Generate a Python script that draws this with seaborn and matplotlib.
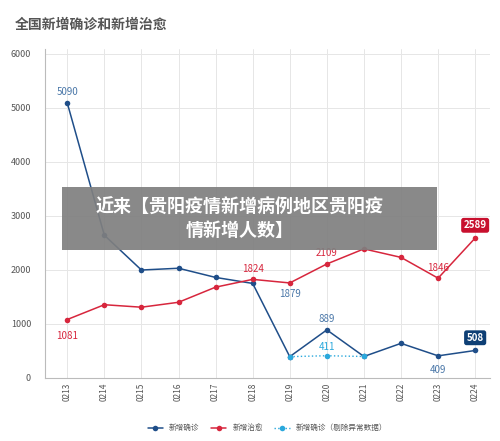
import matplotlib
matplotlib.use("Agg")
import matplotlib.pyplot as plt
import seaborn as sns
import pandas as pd

# ── 数据 ───────────────────────────────────────────────
dates = ["0213", "0214", "0215", "0216", "0217", "0218", "0219",
         "0220", "0221", "0222", "0223", "0224"]
confirmed = [5090, 2641, 1997, 2030, 1860, 1749, 394, 889, 397, 640, 409, 508]
cured = [1081, 1355, 1309, 1400, 1680, 1824, 1758, 2109, 2388, 2231, 1846, 2589]
excl_dates = ["0219", "0220", "0221"]
excl_values = [394, 411, 397]

DARK = "#1f4e89"
RED = "#d7263d"
LIGHT = "#2aa8dc"

sns.set_theme(style="whitegrid")
plt.rcParams["font.family"] = ["Noto Sans CJK SC", "DejaVu Sans"]

fig = plt.figure(figsize=(5.0, 4.41), dpi=100)
fig.patch.set_facecolor("white")
ax = fig.add_axes([0.09, 0.143, 0.89, 0.745])

x = list(range(len(dates)))
xi = [dates.index(d) for d in excl_dates]
df = pd.DataFrame({"x": x, "confirmed": confirmed, "cured": cured})

sns.lineplot(data=df, x="x", y="confirmed", ax=ax, color=DARK, lw=1.1,
             marker="o", markersize=4, markeredgewidth=0, label="新增确诊")
sns.lineplot(data=df, x="x", y="cured", ax=ax, color=RED, lw=1.1,
             marker="o", markersize=4, markeredgewidth=0, label="新增治愈")
ax.plot(xi, excl_values, color=LIGHT, lw=1.0, ls=":", marker="o",
        markersize=4, markeredgewidth=0, label="新增确诊（剔除异常数据）")

ax.set_xlim(-0.6, len(dates) - 0.6)
ax.set_ylim(0, 6080)
ax.set_yticks(range(0, 7000, 1000))
ax.set_xticks(x)
ax.set_xticklabels(dates, rotation=90, fontsize=6, color="#555555")
ax.tick_params(axis="y", labelsize=6.5, colors="#555555", length=0, pad=10)
ax.tick_params(axis="x", length=0)
ax.set_xlabel("")
ax.set_ylabel("")
ax.grid(color="#e6e6e6", lw=0.7)
for s in ["top", "right"]:
    ax.spines[s].set_visible(False)
for s in ["left", "bottom"]:
    ax.spines[s].set_color("#bbbbbb")
    ax.spines[s].set_linewidth(0.8)

# 数值标注
def lab(i, v, c, dy, txt=None):
    ax.annotate(txt or str(v), (i, v), xytext=(0, dy), textcoords="offset points",
                ha="center", fontsize=7, color=c)

lab(0, confirmed[0], "#4a77a8", 6)
lab(6, confirmed[5], "#4a77a8", -10, "1879")
lab(7, confirmed[7], "#4a77a8", 6)
lab(10, confirmed[10], "#4a77a8", -12)
lab(0, cured[0], RED, -14)
lab(5, cured[5], RED, 5)
lab(7, cured[7], RED, 6)
lab(10, cured[10], RED, 5)
lab(xi[1], excl_values[1], LIGHT, 4)

for v, c in [(cured[-1], "#c8102e"), (confirmed[-1], "#0e3f75")]:
    ax.annotate(str(v), (11, v), xytext=(0, 7), textcoords="offset points",
                ha="center", fontsize=7, color="white", fontweight="bold",
                bbox=dict(boxstyle="round,pad=0.25", fc=c, ec="none"))

ax.legend(loc="upper center", bbox_to_anchor=(0.5, -0.12), ncol=3, frameon=False,
          fontsize=5.5, handlelength=2, columnspacing=1.5, labelcolor="#555555")

fig.text(0.03, 0.935, "全国新增确诊和新增治愈", fontsize=10, fontweight="bold",
         color="#555555")

# 覆盖标题
fig.patches.append(plt.Rectangle((0.124, 0.433), 0.75, 0.142, transform=fig.transFigure,
                                 fc="#7f7f7f", ec="none", alpha=0.92, zorder=10))
fig.text(0.48, 0.504, "近来【贵阳疫情新增病例地区贵阳疫\n情新增人数】", ha="center",
         va="center", fontsize=13, fontweight="bold", color="white",
         linespacing=1.25, zorder=11)

fig.savefig("out.png", dpi=100)
